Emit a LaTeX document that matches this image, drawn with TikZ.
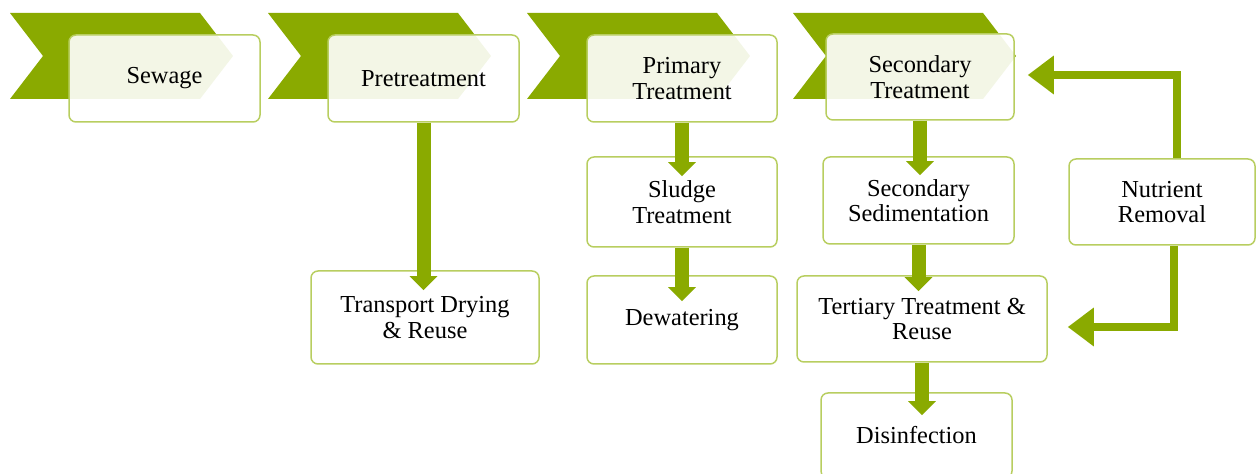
\documentclass[tikz,border=0pt]{standalone}
\usepackage{fontspec}
\setmainfont{Liberation Serif}
\usetikzlibrary{arrows.meta,calc}
\definecolor{stagegreen}{RGB}{138,170,0}
\definecolor{boxline}{RGB}{184,206,96}

\begin{document}
\begin{tikzpicture}[
  x=0.5pt, y=-0.5pt,
  stage/.style={rectangle, rounded corners=3.5pt, draw=boxline, line width=0.75pt,
    fill=white, fill opacity=0.9, text opacity=1, inner sep=0pt, align=center,
    minimum width=95.5pt, minimum height=43.5pt,
    font=\fontsize{12.2}{12.8}\selectfont},
  chevron/.style={fill=stagegreen},
  flow/.style={draw=stagegreen, line width=7pt, -{Triangle[length=7pt,width=13.5pt]}},
  feedback/.style={draw=stagegreen, line width=4.25pt, line join=miter,
    -{Triangle[length=13pt,width=18.5pt]}}
  ]
\useasboundingbox (0,0) rectangle (1256,474);

\foreach \x in {10,268,527,793}
  \fill[chevron] (\x,13) -- ++(190,0) -- ++(33,43) -- ++(-33,43) -- ++(-190,0) -- ++(33,-43) -- cycle;

\node[stage] (sewage) at (164.5,78.5) {Sewage};
\node[stage] (pretreat) at (423.5,78.5) {Pretreatment};
\node[stage, minimum width=95pt] (primary) at (682,78.5) {Primary\\Treatment};
\node[stage, minimum width=94pt, minimum height=43pt] (secondary) at (920,77) {Secondary\\Treatment};

\node[stage, minimum width=114pt, minimum height=46.5pt] (transport) at (425,317.5) {Transport Drying\\\& Reuse};
\node[stage, minimum width=95pt, minimum height=45pt] (sludge) at (682,202) {Sludge\\Treatment};
\node[stage, minimum width=95pt, minimum height=44pt] (dewater) at (682,320) {Dewatering};
\node[stage] (secsed) at (918.5,200.5) {Secondary\\Sedimentation};
\node[stage, minimum width=93pt, minimum height=43pt] (nutrient) at (1162,202) {Nutrient\\Removal};
\node[stage, minimum width=125pt, minimum height=43pt] (tertiary) at (922,319) {Tertiary Treatment \&\\Reuse};
\node[stage, minimum height=42.5pt] (disinf) at (916.5,435.5) {Disinfection};

\draw[flow] (pretreat.south) -- ($(pretreat.south |- transport.north)+(0,20)$);
\draw[flow] (primary.south) -- ($(primary.south |- sludge.north)+(0,20)$);
\draw[flow] (sludge.south) -- ($(sludge.south |- dewater.north)+(0,26)$);
\draw[flow] (secondary.south) -- ($(secondary.south |- secsed.north)+(0,19)$);
\draw[flow] (secsed.south) -- ($(secsed.south |- tertiary.north)+(0,16)$);
\draw[flow] (tertiary.south) -- ($(tertiary.south |- disinf.north)+(0,23)$);

\draw[feedback] ([xshift=7.5pt]nutrient.north) |- ($(secondary.east)+(13,-2)$);
\draw[feedback] ([xshift=6pt]nutrient.south) |- ($(tertiary.east)+(20,8)$);
\end{tikzpicture}
\end{document}
